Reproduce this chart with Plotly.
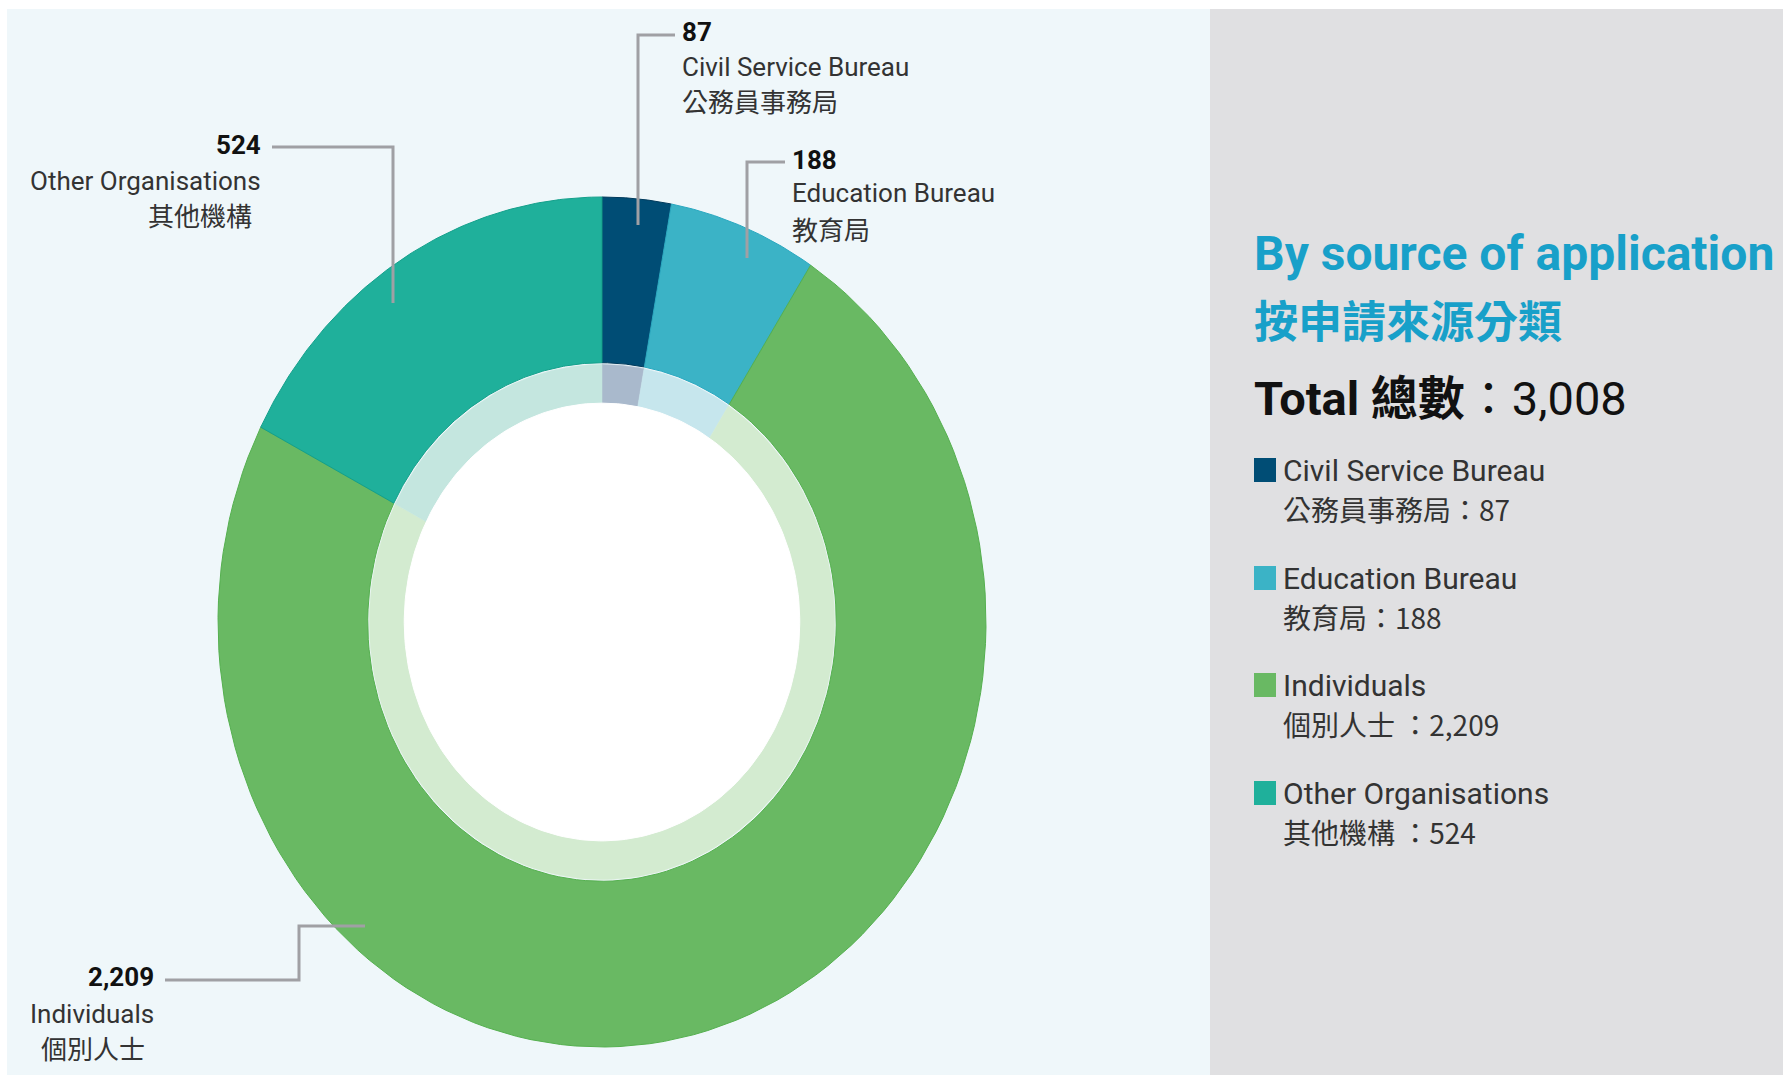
import numpy as np
import plotly.graph_objects as go

# data
labels_en = ["Civil Service Bureau", "Education Bureau", "Individuals", "Other Organisations"]
labels_zh = ["公務員事務局", "教育局", "個別人士", "其他機構"]
values = [87, 188, 2209, 524]
colors = ["#004d75", "#3bb3c6", "#69b963", "#1fb09b"]
edge_colors = ["#003a5c", "#2aa8c0", "#55b04f", "#14a08b"]
light_colors = ["#a9b9cc", "#c6e6ed", "#d3ebd0", "#c4e6df"]
legend_zh = ["公務員事務局：87", "教育局：188", "個別人士 ：2,209", "其他機構 ：524"]
total_text = "3,008"

W, H = 1783, 1075
cx, cy, rx, ry = 602, 622, 384, 425
r_hole, r_inner = 0.61, 0.515

FONT = "Roboto, 'Noto Sans CJK TC', sans-serif"
CJK = "'Noto Sans CJK TC', Roboto, sans-serif"


def wedge(a0, a1, r0, r1):
    t = np.linspace(a0, a1, 120)
    xo = cx + rx * r1 * np.sin(t)
    yo = cy - ry * r1 * np.cos(t)
    xi = cx + rx * r0 * np.sin(t[::-1])
    yi = cy - ry * r0 * np.cos(t[::-1])
    return np.r_[xo, xi, xo[:1]], np.r_[yo, yi, yo[:1]]


fig = go.Figure()

frac = np.cumsum([0] + values) / sum(values)
angles = 2 * np.pi * frac
for i in range(len(values)):
    x, y = wedge(angles[i], angles[i + 1], r_hole, 1.0)
    fig.add_trace(go.Scatter(x=x, y=y, mode="lines", fill="toself",
                             fillcolor=colors[i],
                             line=dict(color=edge_colors[i], width=1),
                             hoverinfo="skip", showlegend=False))
    x, y = wedge(angles[i], angles[i + 1], r_inner, r_hole - 0.004)
    fig.add_trace(go.Scatter(x=x, y=y, mode="lines", fill="toself",
                             fillcolor=light_colors[i],
                             line=dict(color=light_colors[i], width=0.5),
                             hoverinfo="skip", showlegend=False))

t = np.linspace(0, 2 * np.pi, 240)
fig.add_trace(go.Scatter(x=cx + rx * r_inner * np.sin(t), y=cy - ry * r_inner * np.cos(t),
                         mode="lines", fill="toself", fillcolor="white",
                         line=dict(color="white", width=1),
                         hoverinfo="skip", showlegend=False))

shapes = [
    dict(type="rect", xref="x", yref="y", x0=7, x1=1210, y0=9, y1=H,
         fillcolor="#eff7fa", line_width=0, layer="below"),
    dict(type="rect", xref="x", yref="y", x0=1210, x1=W, y0=9, y1=H,
         fillcolor="#e0e0e2", line_width=0, layer="below"),
]

# leader lines
leaders = [
    [(675, 35), (638, 35), (638, 225)],
    [(785, 162), (747, 162), (747, 258)],
    [(272, 147), (393, 147), (393, 303)],
    [(165, 980), (299, 980), (299, 926), (365, 926)],
]
for pts in leaders:
    path = "M " + " L ".join(f"{px},{py}" for px, py in pts)
    shapes.append(dict(type="path", xref="x", yref="y", path=path,
                       line=dict(color="#a0a0a4", width=3)))

annotations = []


def txt(x, y, s, size, color="#222", anchor="left", bold=False, family=FONT):
    annotations.append(dict(x=x, y=y, xref="x", yref="y", text=f"<b>{s}</b>" if bold else s,
                            showarrow=False, xanchor=anchor, yanchor="middle",
                            font=dict(size=size, color=color, family=family)))


# slice labels
label_pos = [(680, [32, 67, 100], "left"),
             (790, [160, 193, 228], "left"),
             (156, [977, 1014, 1047], "right"),
             (263, [145, 181, 214], "right")]
for i, (lx, ys, anc) in enumerate(label_pos):
    txt(lx, ys[0], f"{values[i]:,}", 26, "#111", anc, bold=True)
    txt(lx, ys[1], labels_en[i], 26, "#333", anc)
    zx = lx if anc == "left" else lx - 9
    txt(zx, ys[2], labels_zh[i], 26, "#333", anc, family=CJK)

# right panel
txt(1252, 253, "By source of application", 48, "#18a0c9", bold=True)
txt(1252, 319, "按申請來源分類", 44, "#18a0c9", bold=True, family=CJK)
txt(1252, 398, f"<b>Total 總數</b>：{total_text}", 47, "#111")

leg_y = [470, 578, 685, 793]
for i, ly in enumerate(leg_y):
    shapes.append(dict(type="rect", xref="x", yref="y", x0=1254, x1=1276,
                       y0=ly - 12, y1=ly + 12, fillcolor=colors[i], line_width=0))
    txt(1281, ly, labels_en[i], 30, "#333")
    txt(1281, ly + 39, legend_zh[i], 28, "#333", family=CJK)

fig.update_layout(
    width=W, height=H,
    margin=dict(l=0, r=0, t=0, b=0),
    paper_bgcolor="white", plot_bgcolor="rgba(0,0,0,0)",
    xaxis=dict(range=[0, W], visible=False, fixedrange=True),
    yaxis=dict(range=[H, 0], visible=False, fixedrange=True),
    shapes=shapes, annotations=annotations,
    showlegend=False,
)

fig.write_html("out.html", config={"displayModeBar": False},
               post_script="document.body.style.margin='0';document.body.style.overflow='hidden';")
